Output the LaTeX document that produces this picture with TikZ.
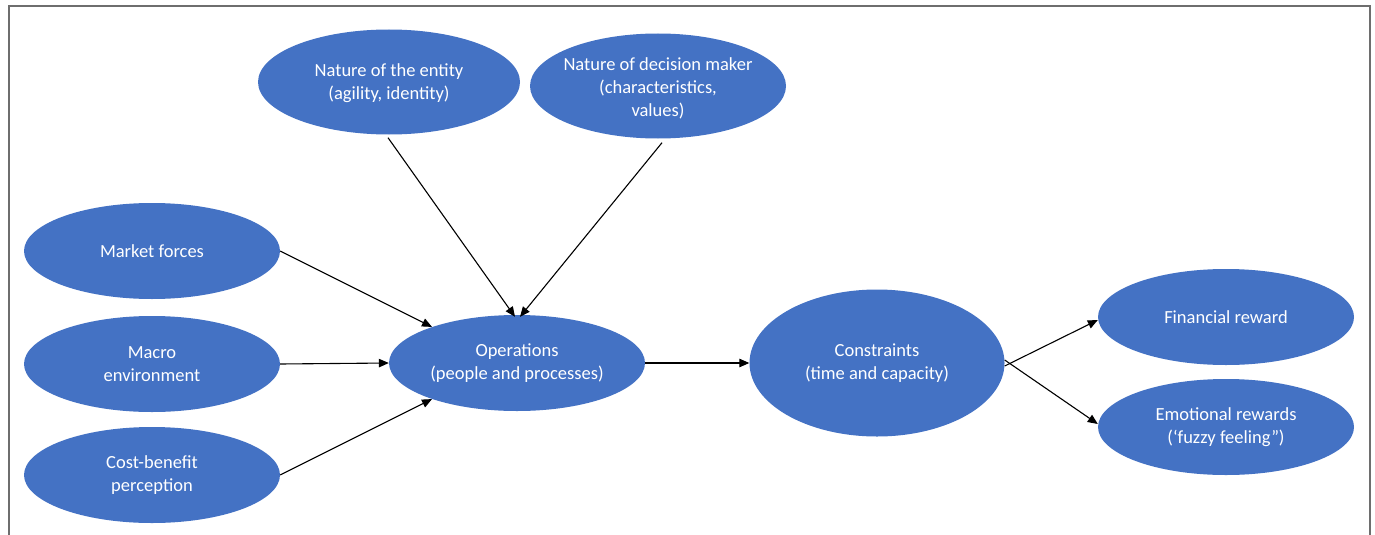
\documentclass[tikz,border=0pt]{standalone}
\usepackage{fontspec}
\setmainfont{Carlito}
\usetikzlibrary{arrows.meta,shapes.geometric}
\definecolor{ellblue}{HTML}{4472C4}
\definecolor{framegray}{RGB}{110,110,110}
\tikzset{
  ell/.style={ellipse, fill=ellblue, draw=none, inner sep=0pt, minimum width=256pt, minimum height=96pt},
  txt/.style={text=white, align=center, font=\fontsize{18.5}{23}\selectfont, inner sep=0pt},
  arr/.style={draw=black, line width=1.1pt, -{Triangle[length=10pt,width=8.5pt]}},
  frame/.style={draw=framegray, line width=1.5pt}
}
\begin{document}
\begin{tikzpicture}[x=1pt,y=-1pt]
\useasboundingbox (0,0) rectangle (1375,535);
\coordinate (f1) at (9,535);
\coordinate (f2) at (9,6);
\coordinate (f3) at (1370,6);
\coordinate (f4) at (1370,535);
\draw[frame] (f1) -- (f2) -- (f3) -- (f4);

\node[ell, minimum width=262pt, minimum height=105pt, label={[txt,yshift=-1pt]center:Nature of the entity\\(agility, identity)}] (ent) at (389,82) {};
\node[ell, minimum width=256pt, minimum height=105pt, label={[txt,yshift=-2pt]center:Nature of decision maker\\(characteristics,\\values)}] (dm) at (658,86) {};
\node[ell, label={[txt]center:Market forces}] (mf) at (152,251) {};
\node[ell, label={[txt]center:Macro\\environment}] (me) at (152,364) {};
\node[ell, label={[txt]center:Cost-benefit\\perception}] (cb) at (152,475) {};
\node[ell, label={[txt]center:Operations\\(people and processes)}] (op) at (517,363) {};
\node[ell, minimum width=255pt, minimum height=147pt, label={[txt]center:Constraints\\(time and capacity)}] (cn) at (877,363) {};
\node[ell, label={[txt]center:Financial reward}] (fr) at (1226,317) {};
\node[ell, label={[txt]center:Emotional rewards\\(‘fuzzy feeling”)}] (er) at (1226,427) {};

\draw[arr] ([xshift=-1pt,yshift=-3pt]ent.south) -- ([xshift=-2pt,yshift=-2pt]op.north);
\draw[arr] ([xshift=4pt,yshift=-4pt]dm.south) -- ([xshift=3pt,yshift=-2pt]op.north);
\draw[arr] (mf.east) -- (op.157);
\draw[arr] (me.east) -- (op.west);
\draw[arr] (cb.east) -- (op.203);
\draw[arr] (op.east) -- (cn.west);
\draw[arr] ([yshift=-3pt]cn.east) -- ([yshift=-3pt]fr.west);
\draw[arr] ([yshift=3pt]cn.east) -- ([yshift=3pt]er.west);
\end{tikzpicture}
\end{document}
